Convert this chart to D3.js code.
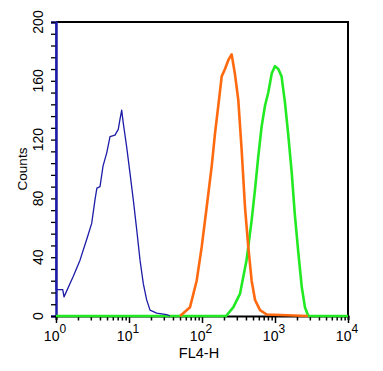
<!DOCTYPE html>
<html>
<head>
<meta charset="utf-8">
<script src="https://cdn.jsdelivr.net/npm/d3@7"></script>
<style>
  body { margin: 0; background: #fff; }
  text { font-family: "Liberation Sans", Arial, sans-serif; fill: #000; }
</style>
</head>
<body>
<div id="chart"></div>
<script>
// decade exponents of FL4-H and counts
const blueLog = [0, 0, 0.092, 0.11, 0.237, 0.329, 0.42, 0.489, 0.534, 0.56, 0.603, 0.644, 0.695, 0.74, 0.808, 0.853, 0.877, 0.9, 0.922, 0.968, 1.014, 1.059, 1.105, 1.151, 1.196, 1.242, 1.288, 1.379, 1.516, 1.56]
const blueCounts = [260, 18, 18, 13, 27, 38, 52, 63, 79, 87, 88, 102, 111, 122, 123, 127, 134, 140, 131, 115, 97, 79, 59, 38, 22, 11, 4, 2, 1, 0]

const orangeLog = [1.70, 1.836, 1.927, 1.996, 2.064, 2.133, 2.178, 2.223, 2.27, 2.315, 2.36, 2.406, 2.45, 2.497, 2.543, 2.589, 2.634, 2.68, 2.726, 2.795, 2.886, 3.45]
const orangeCounts = [0, 6, 24, 47, 74, 102, 124, 143, 163, 168, 174, 178, 165, 147, 113, 74, 47, 24, 11, 4, 1, 0]

const greenLog = [0, 2.33, 2.43, 2.52, 2.61, 2.68, 2.726, 2.77, 2.817, 2.863, 2.908, 2.955, 3.0, 3.045, 3.09, 3.137, 3.18, 3.23, 3.27, 3.32, 3.366, 3.41, 3.456, 4]
const greenCounts = [0, 0, 6, 15, 38, 65, 86, 108, 129, 143, 152, 165, 170, 168, 163, 145, 124, 97, 70, 43, 20, 6, 0, 0]

const yTicks = [0, 40, 80, 120, 160, 200]
const xDecades = [0, 1, 2, 3, 4]

const width = 383, height = 371
const margins = { top: 22, right: 35, bottom: 55, left: 56 }

const svg = d3.select('#chart').append('svg')
    .attr('width', width)
    .attr('height', height)

const xScale = d3.scaleLog()
    .domain([1, 1e4])
    .range([margins.left, width - margins.right])

const yScale = d3.scaleLinear()
    .domain([0, 200])
    .range([height - margins.bottom, margins.top])

svg.append('clipPath').attr('id', 'clip')
  .append('rect')
    .attr('x', margins.left - 2)
    .attr('y', margins.top)
    .attr('width', width - margins.left - margins.right + 4)
    .attr('height', height - margins.top - margins.bottom + 2)

// frame top and right
svg.append('path')
    .attr('d', `M${margins.left},${margins.top}H${width - margins.right}V${height - margins.bottom}`)
    .attr('fill', 'none')
    .attr('stroke', '#000')
    .attr('stroke-width', 2)

// y axis: ticks every 8 counts
const yAxis = svg.append('g')
    .attr('transform', `translate(${margins.left},0)`)
    .call(d3.axisLeft(yScale).tickValues(d3.range(0, 201, 8)).tickSize(5).tickFormat(''))
yAxis.select('.domain').attr('stroke', '#1c1ca8').attr('stroke-width', 2.5)
yAxis.selectAll('.tick line').attr('stroke-width', 1.3)

svg.append('g').selectAll('text')
    .data(yTicks)
    .join('text')
    .attr('transform', d => `translate(${margins.left - 13},${yScale(d)}) rotate(-90)`)
    .attr('text-anchor', 'middle')
    .attr('font-size', 14)
    .text(d => d)

svg.append('text')
    .attr('transform', `translate(27,${(margins.top + height - margins.bottom) / 2}) rotate(-90)`)
    .attr('text-anchor', 'middle')
    .attr('font-size', 13.5)
    .text('Counts')

// x axis: log ticks
let xTickVals = []
xDecades.forEach(e => {
    if (e < 4) d3.range(1, 10).forEach(m => xTickVals.push(m * Math.pow(10, e)))
    else xTickVals.push(1e4)
})
const xAxis = svg.append('g')
    .attr('transform', `translate(0,${height - margins.bottom})`)
    .call(d3.axisBottom(xScale).tickValues(xTickVals).tickSize(4).tickFormat(''))
xAxis.select('.domain').attr('stroke-width', 2)
xAxis.selectAll('.tick line')
    .attr('stroke-width', 1.5)
    .attr('y2', d => Math.abs(Math.log10(d) % 1) < 1e-9 ? 7 : 4.5)

const xLab = svg.append('g').selectAll('text')
    .data(xDecades)
    .join('text')
    .attr('x', d => xScale(Math.pow(10, d)) - 1)
    .attr('y', height - margins.bottom + 25)
    .attr('text-anchor', 'middle')
    .attr('font-size', 14)
xLab.append('tspan').text('10')
xLab.append('tspan').attr('dy', -8).attr('font-size', 12).text(d => d)

svg.append('text')
    .attr('x', 199)
    .attr('y', 358)
    .attr('text-anchor', 'middle')
    .attr('font-size', 14.5)
    .text('FL4-H')

// histograms
const series = [
    { log: greenLog, counts: greenCounts, color: '#22ea22', w: 2.6 },
    { log: orangeLog, counts: orangeCounts, color: '#ff6a10', w: 2.6 },
    { log: blueLog, counts: blueCounts, color: '#1c1ca8', w: 1.3 }
]

const plot = svg.append('g').attr('clip-path', 'url(#clip)')
series.forEach(s => {
    const pts = s.log.map((e, i) => ({ x: Math.pow(10, e), y: s.counts[i] }))
    const lineFun = d3.line()
        .x(d => xScale(d.x))
        .y(d => yScale(d.y))
    plot.append('path')
        .datum(pts)
        .attr('d', lineFun)
        .attr('fill', 'none')
        .attr('stroke', s.color)
        .attr('stroke-width', s.w)
        .attr('stroke-linejoin', 'round')
})
</script>
</body>
</html>
